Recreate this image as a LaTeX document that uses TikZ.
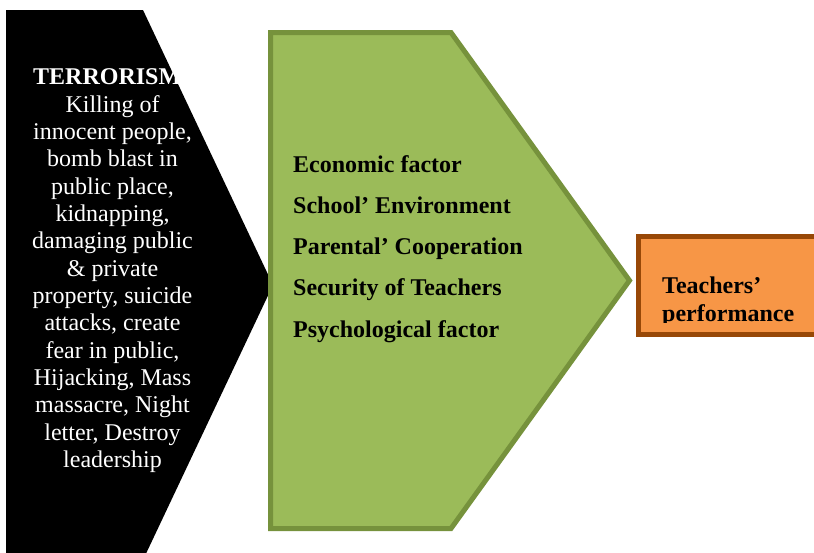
\documentclass[tikz,border=0pt]{standalone}
\usepackage{fontspec}
\setmainfont{Liberation Serif}
\definecolor{factorGreen}{HTML}{9BBB59}
\definecolor{factorRim}{HTML}{76923C}
\definecolor{outcomeOrange}{HTML}{F79646}
\definecolor{outcomeRim}{HTML}{984807}
\begin{document}
\begin{tikzpicture}[x=1pt,y=-1pt,
    bigfont/.style={font=\fontsize{24}{27.4}\selectfont, inner sep=0pt},
    causeline/.style={bigfont, text=white, anchor=base},
    factorline/.style={bigfont, font=\fontsize{24}{27.4}\selectfont\bfseries, anchor=base west},
    chevron/.style={draw=factorRim, fill=factorGreen, line width=5pt, line join=miter},
    outcomebox/.style={draw=outcomeRim, fill=outcomeOrange, line width=5pt}]
    \useasboundingbox (0,0) rectangle (814,552);
    \clip (0,0) rectangle (814,552);

    \pgfmathsetmacro{\lineskip}{27.36} % line pitch of the black block
    \pgfmathsetmacro{\factorskip}{41.25}

    % black chevron (runs off the bottom of the page)
    \coordinate (Bup1) at (6,10);
    \coordinate (Bup2) at (143,10);
    \coordinate (Btip) at (273,285);
    \coordinate (Bdown2) at (143,560);
    \coordinate (Bdown1) at (6,560);
    \fill[black] (Bup1) -- (Bup2) -- (Btip) -- (Bdown2) -- (Bdown1) -- cycle;

    \node[bigfont, font=\fontsize{24}{27.4}\selectfont\bfseries, text=white, anchor=base west] (terror) at (33,84) {TERRORISM};
    \foreach \t [count=\i from 0] in
    {{Killing of},
        {innocent people,},
        {bomb blast in},
        {public place,},
        {kidnapping,},
        {damaging public},
        {\& private},
        {property, suicide},
        {attacks, create},
        {fear in public,},
        {Hijacking, Mass},
        {massacre, Night},
        {letter, Destroy},
        {leadership}
    }
    {
        \node[causeline] (cause\i) at (112.5,{112+\lineskip*\i}) {\t};
    };

    % green chevron
    \coordinate (Gup1) at (270.5,32.5);
    \coordinate (Gup2) at (451,32.5);
    \coordinate (Gtip) at (629.5,280.5);
    \coordinate (Gdown2) at (451,528.5);
    \coordinate (Gdown1) at (270.5,528.5);
    \draw[chevron] (Gup1) -- (Gup2) -- (Gtip) -- (Gdown2) -- (Gdown1) -- cycle;

    \foreach \t [count=\i from 0] in
    {Economic factor,
        School’ Environment,
        Parental’ Cooperation,
        Security of Teachers,
        Psychological factor
    }
    {
        \node[factorline] (factor\i) at (293,{172+\factorskip*\i}) {\t};
    };

    % orange result box
    \coordinate (Oup) at (638.5,236.5);
    \coordinate (Odown) at (822,334.5);
    \draw[outcomebox] (Oup) rectangle (Odown);
    \begin{scope}
        \clip (641,239) rectangle (812,322.5);
        \node[factorline] (teachers) at (662,293) {Teachers’};
        \node[factorline] (performance) at (662,321) {performance};
    \end{scope}
\end{tikzpicture}
\end{document}
